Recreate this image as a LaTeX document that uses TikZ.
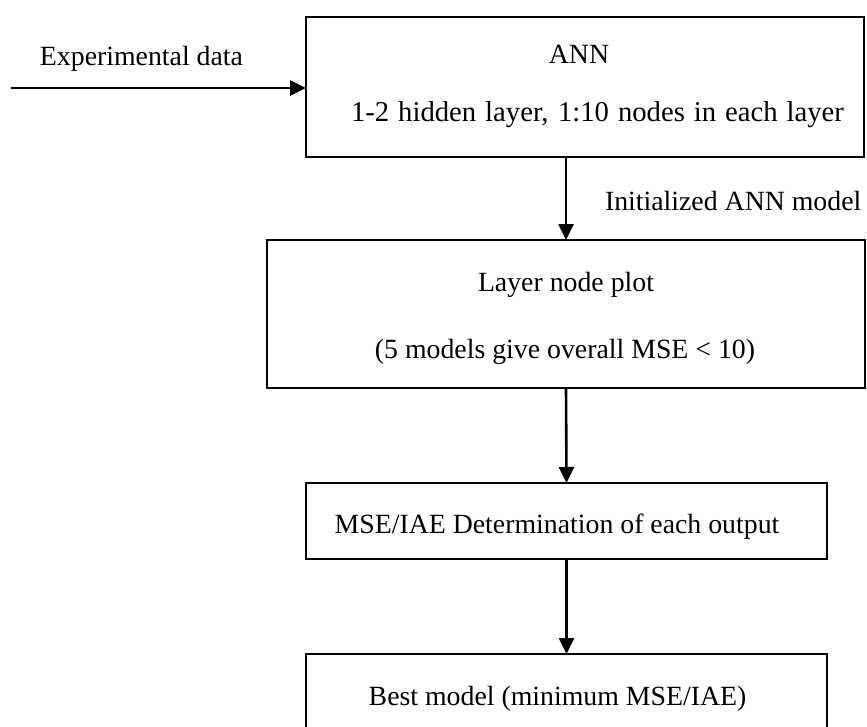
\documentclass[tikz,border=0pt]{standalone}
\usepackage{fontspec}
\setmainfont{Liberation Serif}
\usetikzlibrary{arrows.meta}

\begin{document}
\begin{tikzpicture}[x=1pt,y=-1pt,
  every node/.style={font=\fontsize{27.8}{33}\selectfont, inner sep=0pt, outer sep=0pt},
  stagebox/.style={draw, line width=1.8pt, minimum width=#1},
  caption/.style={anchor=base},
  flow/.style={line width=2.6pt, -{Triangle[length=16pt,width=15pt]}}]
  \useasboundingbox (0,0) rectangle (867,726);
  \clip (0,0) rectangle (867,726);

  % process boxes
  \node[stagebox=558, minimum height=140] (ann)  at (585,87) {};
  \node[stagebox=598, minimum height=148] (plot) at (566,314) {};
  \node[stagebox=521, minimum height=76]  (err)  at (566.5,521) {};
  \node[stagebox=521, minimum height=76]  (best) at (566.5,692) {};

  % box texts
  \node[caption] (t1a) at (579,63)  {ANN};
  \node[caption, font=\fontsize{28.7}{33}\selectfont] (t1b) at (597.5,121)
    {\makebox[493pt][s]{1-2 hidden layer, 1:10 nodes in each layer}};
  \node[caption] (t2a) at (566,291) {Layer node plot};
  \node[caption] (t2b) at (565,358) {(5 models give overall MSE < 10)};
  \node[caption] (t3)  at (557,533) {MSE/IAE Determination of each output};
  \node[caption] (t4)  at (557.5,705) {Best model (minimum MSE/IAE)};

  % input and labels
  \coordinate (src) at (11,88);
  \node[caption] (lin)  at (141.5,65) {Experimental data};
  \node[anchor=base west] (linit) at (605,210) {Initialized ANN model};

  % connectors
  \draw[flow] (src) -- (src -| ann.west);
  \draw[flow] (ann.south -| plot.north) -- (plot.north);
  \draw[flow] (plot.south) -- (err.north);
  \draw[flow] (err.south) -- (best.north);
\end{tikzpicture}
\end{document}
